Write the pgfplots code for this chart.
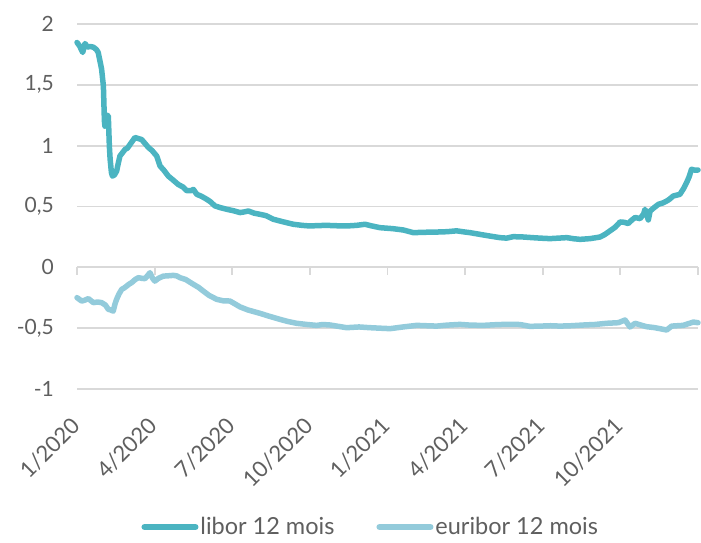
\documentclass[border=0pt]{standalone}
\usepackage{fontspec}
\setmainfont{Lato}
\usepackage{pgfplots}
\pgfplotsset{compat=1.18}
\definecolor{libor}{RGB}{75,180,193}
\definecolor{euribor}{RGB}{147,203,219}
\definecolor{gridc}{RGB}{217,217,217}
\definecolor{txt}{RGB}{95,95,95}
\begin{document}
\begin{tikzpicture}
\useasboundingbox (0,0) rectangle (701pt,542pt);
\begin{axis}[
  at={(77pt,153pt)}, anchor=south west,
  scale only axis, width=621pt, height=365pt,
  xmin=0, xmax=24, ymin=-1, ymax=2,
  axis line style={draw=none},
  tick style={draw=none},
  ymajorgrids, grid style={gridc, line width=1.8pt},
  ytick={-1,-0.5,0,0.5,1,1.5,2},
  yticklabels={-1,{-0,5},0,{0,5},1,{1,5},2},
  xtick={0,3,6,9,12,15,18,21},
  xticklabels={1/2020,4/2020,7/2020,10/2020,1/2021,4/2021,7/2021,10/2021},
  font=\fontsize{21}{25}\selectfont,
  ticklabel style={text=txt},
  yticklabel style={anchor=east, inner sep=0pt, xshift=-23pt},
  xticklabel style={inner sep=0pt, yshift=-33pt, xshift=-1pt, rotate=45, anchor=east, font=\fontsize{22}{25}\selectfont},
  clip=false,
  legend columns=2,
  legend style={draw=none, at={(0.473,-0.378)}, anchor=center, font=\fontsize{23.5}{26}\selectfont, text=txt,
    /tikz/every even column/.append style={column sep=40pt}, inner sep=0pt,
    nodes={inner xsep=2pt}},
  legend image code/.code={\draw[#1, line width=6pt, line cap=round] (0pt,0pt) -- (51pt,0pt);},
  every axis plot/.append style={line width=5.5pt, line join=round, line cap=round},
]
\pgfplotsinvokeforeach{0,3,6,9,12,15,18,21,24}{
  \draw[gridc, line width=1.8pt] (axis cs:#1,0) -- ++(0pt,-8pt);
}
\addplot[libor] coordinates {
(0,1.848) (0.1,1.82) (0.22,1.766) (0.31,1.84) (0.4,1.81) (0.5,1.815) (0.63,1.81) (0.75,1.79) (0.82,1.766)
(0.95,1.63) (1.02,1.49) (1.06,1.2) (1.08,1.16) (1.15,1.25) (1.21,1.245) (1.25,1.0) (1.28,0.89) (1.33,0.78)
(1.37,0.75) (1.45,0.76) (1.53,0.79) (1.6,0.86) (1.66,0.915) (1.75,0.94) (1.86,0.97) (1.95,0.98) (2.05,1.01)
(2.15,1.04) (2.24,1.067) (2.35,1.06) (2.5,1.05) (2.62,1.02) (2.76,0.985) (2.9,0.96) (3.08,0.915) (3.21,0.833)
(3.35,0.8) (3.53,0.75) (3.7,0.72) (3.92,0.68) (4.1,0.66) (4.24,0.63) (4.4,0.63) (4.5,0.64) (4.63,0.60)
(4.8,0.585) (5.01,0.56) (5.15,0.54) (5.33,0.505) (5.55,0.49) (5.79,0.477) (6.05,0.465) (6.3,0.45) (6.45,0.455)
(6.62,0.463) (6.85,0.445) (7.07,0.436) (7.3,0.425) (7.59,0.395) (7.95,0.375) (8.36,0.354) (8.7,0.345)
(9.0,0.34) (9.3,0.343) (9.65,0.345) (10.0,0.342) (10.42,0.34) (10.8,0.345) (11.13,0.354) (11.4,0.34)
(11.71,0.326) (12.2,0.318) (12.61,0.307) (13.0,0.285) (13.4,0.288) (13.9,0.29) (14.3,0.293) (14.67,0.30)
(15.0,0.29) (15.19,0.285) (15.6,0.27) (15.96,0.257) (16.35,0.244) (16.6,0.24) (16.86,0.252) (17.2,0.25)
(17.6,0.244) (17.9,0.24) (18.28,0.236) (18.6,0.24) (18.93,0.244) (19.2,0.235) (19.44,0.23) (19.83,0.236)
(20.21,0.249) (20.4,0.27) (20.6,0.30) (20.8,0.33) (20.99,0.373) (21.15,0.37) (21.3,0.36) (21.45,0.39)
(21.57,0.41) (21.76,0.40) (21.9,0.44) (21.95,0.477) (22.08,0.39) (22.15,0.463) (22.3,0.49) (22.47,0.518)
(22.65,0.53) (22.79,0.545) (22.9,0.56) (23.04,0.586) (23.3,0.60) (23.45,0.65) (23.56,0.697) (23.65,0.74)
(23.75,0.806) (23.85,0.80) (24.0,0.80)
};
\addlegendentry{libor 12 mois}
\addplot[euribor] coordinates {
(0,-0.249) (0.18,-0.277) (0.3,-0.27) (0.44,-0.257) (0.63,-0.29) (0.8,-0.285) (0.95,-0.29) (1.1,-0.31)
(1.21,-0.345) (1.3,-0.35) (1.4,-0.36) (1.47,-0.3) (1.53,-0.263) (1.62,-0.22) (1.73,-0.18) (1.82,-0.17)
(1.92,-0.154) (2.0,-0.14) (2.11,-0.126) (2.25,-0.1) (2.37,-0.085) (2.5,-0.09) (2.63,-0.093) (2.72,-0.07)
(2.82,-0.044) (2.92,-0.09) (3.01,-0.113) (3.15,-0.09) (3.34,-0.072) (3.5,-0.07) (3.72,-0.066) (3.85,-0.07)
(3.98,-0.085) (4.2,-0.1) (4.5,-0.14) (4.7,-0.165) (4.88,-0.195) (5.1,-0.23) (5.4,-0.263) (5.65,-0.275)
(5.91,-0.277) (6.1,-0.3) (6.3,-0.325) (6.6,-0.35) (7.07,-0.378) (7.4,-0.4) (7.85,-0.428) (8.15,-0.445)
(8.49,-0.46) (8.9,-0.47) (9.26,-0.477) (9.5,-0.47) (9.78,-0.474) (10.1,-0.485) (10.42,-0.496) (10.9,-0.49)
(11.32,-0.496) (11.7,-0.5) (12.1,-0.504) (12.6,-0.49) (13.13,-0.477) (13.5,-0.48) (13.9,-0.483) (14.3,-0.475)
(14.8,-0.469) (15.2,-0.475) (15.7,-0.477) (16.3,-0.47) (16.86,-0.469) (17.12,-0.47) (17.5,-0.485) (17.9,-0.483)
(18.3,-0.48) (18.67,-0.483) (19.1,-0.48) (19.57,-0.474) (20.0,-0.47) (20.47,-0.46) (20.92,-0.455) (21.18,-0.433)
(21.37,-0.49) (21.57,-0.46) (21.8,-0.475) (22.02,-0.488) (22.3,-0.495) (22.53,-0.504) (22.79,-0.515)
(22.98,-0.483) (23.2,-0.48) (23.43,-0.477) (23.6,-0.465) (23.82,-0.45) (24.0,-0.455)
};
\addlegendentry{euribor 12 mois}
\end{axis}
\end{tikzpicture}
\end{document}
